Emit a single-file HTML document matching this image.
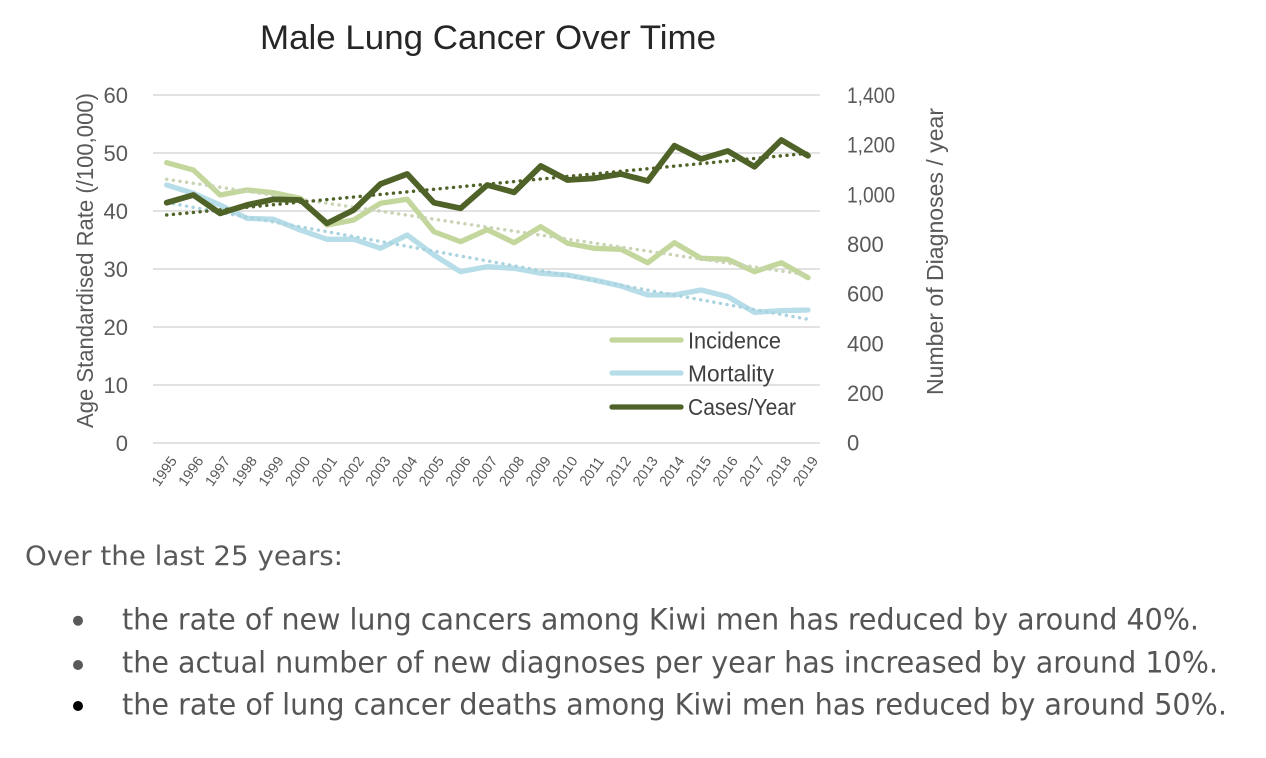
<!DOCTYPE html>
<html>
<head>
<meta charset="utf-8">
<style>
  html, body { margin: 0; padding: 0; background: #ffffff; }
  svg { display: block; }
</style>
</head>
<body>
<svg width="1266" height="758" viewBox="0 0 1266 758" xmlns="http://www.w3.org/2000/svg">
  <rect x="0" y="0" width="1266" height="758" fill="#ffffff"/>

  <!-- Title -->
  <text x="260" y="49" font-family="Liberation Sans, sans-serif" font-size="34" fill="#262626" textLength="456" lengthAdjust="spacingAndGlyphs">Male Lung Cancer Over Time</text>

  <!-- Gridlines -->
  <g stroke="#d9d9d9" stroke-width="1.6">
    <line x1="153" y1="95" x2="820" y2="95"/>
    <line x1="153" y1="153" x2="820" y2="153"/>
    <line x1="153" y1="211" x2="820" y2="211"/>
    <line x1="153" y1="269" x2="820" y2="269"/>
    <line x1="153" y1="327" x2="820" y2="327"/>
    <line x1="153" y1="385" x2="820" y2="385"/>
    <line x1="153" y1="443" x2="820" y2="443"/>
  </g>

  <!-- Left axis labels -->
  <g font-family="Liberation Sans, sans-serif" font-size="22" fill="#595959" text-anchor="end">
    <text x="128" y="103">60</text>
    <text x="128" y="161">50</text>
    <text x="128" y="219">40</text>
    <text x="128" y="277">30</text>
    <text x="128" y="335">20</text>
    <text x="128" y="393">10</text>
    <text x="128" y="451">0</text>
  </g>

  <!-- Right axis labels -->
  <g font-family="Liberation Sans, sans-serif" font-size="22" fill="#595959">
    <text x="847" y="103" textLength="48" lengthAdjust="spacingAndGlyphs">1,400</text>
    <text x="847" y="152.7" textLength="48" lengthAdjust="spacingAndGlyphs">1,200</text>
    <text x="847" y="202.4" textLength="48" lengthAdjust="spacingAndGlyphs">1,000</text>
    <text x="847" y="252">800</text>
    <text x="847" y="301.7">600</text>
    <text x="847" y="351.4">400</text>
    <text x="847" y="401">200</text>
    <text x="847" y="450.7">0</text>
  </g>

  <!-- Axis titles -->
  <text transform="translate(93,260.5) rotate(-90)" text-anchor="middle" font-family="Liberation Sans, sans-serif" font-size="23" fill="#595959" textLength="335" lengthAdjust="spacingAndGlyphs">Age Standardised Rate (/100,000)</text>
  <text transform="translate(943,251.5) rotate(-90)" text-anchor="middle" font-family="Liberation Sans, sans-serif" font-size="23" fill="#595959" textLength="287" lengthAdjust="spacingAndGlyphs">Number of Diagnoses / year</text>

  <!-- Data lines -->
  <g fill="none" stroke-linejoin="round" stroke-linecap="round">
    <polyline stroke="#c3d69b" stroke-width="5.3" points="166.7,162.7 193.4,170 220.1,195 246.9,190 273.6,192.7 300.3,198.3 327,225 353.7,220 380.5,203.3 407.2,199.3 433.9,231.7 460.6,241.7 487.3,229.7 514.1,242.7 540.8,226.7 567.5,243.3 594.2,248.3 620.9,249.3 647.7,262.7 674.4,242.7 701.1,258.3 727.8,259.3 754.5,271.7 781.3,262.7 808,277.7"/>
    <polyline stroke="#b7dde8" stroke-width="5.3" points="166.7,185 193.4,193.3 220.1,205 246.9,218.3 273.6,219.3 300.3,230 327,239.3 353.7,239.3 380.5,248.3 407.2,235 433.9,255 460.6,271.7 487.3,266.7 514.1,268.3 540.8,273.3 567.5,275 594.2,280 620.9,286 647.7,295 674.4,295 701.1,290 727.8,296.7 754.5,312.3 781.3,310.7 808,310"/>
    <!-- trendlines incidence & mortality -->
    <line x1="166.7" y1="179.3" x2="808" y2="275" stroke="#c8d4b4" stroke-width="3.4" stroke-dasharray="0.1 6.6"/>
    <line x1="166.7" y1="202.5" x2="808" y2="319.3" stroke="#a9d3df" stroke-width="3.4" stroke-dasharray="0.1 6.6"/>
    <polyline stroke="#4f6228" stroke-width="5.8" points="166.7,202.7 193.4,195 220.1,213.3 246.9,205 273.6,199.3 300.3,200 327,223.3 353.7,210 380.5,184 407.2,174 433.9,202.7 460.6,208.3 487.3,185 514.1,192.3 540.8,166 567.5,180 594.2,178.3 620.9,174 647.7,181 674.4,145.7 701.1,159 727.8,151 754.5,166.7 781.3,140 808,155.7"/>
    <line x1="166.7" y1="215" x2="808" y2="153.3" stroke="#4f6228" stroke-width="3.4" stroke-dasharray="0.1 6.6"/>
  </g>

  <!-- X labels -->
  <g font-family="Liberation Sans, sans-serif" font-size="14.5" fill="#595959" text-anchor="middle">
    <text transform="translate(168.2,474) rotate(-55)">1995</text>
    <text transform="translate(194.9,474) rotate(-55)">1996</text>
    <text transform="translate(221.6,474) rotate(-55)">1997</text>
    <text transform="translate(248.4,474) rotate(-55)">1998</text>
    <text transform="translate(275.1,474) rotate(-55)">1999</text>
    <text transform="translate(301.8,474) rotate(-55)">2000</text>
    <text transform="translate(328.5,474) rotate(-55)">2001</text>
    <text transform="translate(355.2,474) rotate(-55)">2002</text>
    <text transform="translate(382,474) rotate(-55)">2003</text>
    <text transform="translate(408.7,474) rotate(-55)">2004</text>
    <text transform="translate(435.4,474) rotate(-55)">2005</text>
    <text transform="translate(462.1,474) rotate(-55)">2006</text>
    <text transform="translate(488.8,474) rotate(-55)">2007</text>
    <text transform="translate(515.6,474) rotate(-55)">2008</text>
    <text transform="translate(542.3,474) rotate(-55)">2009</text>
    <text transform="translate(569,474) rotate(-55)">2010</text>
    <text transform="translate(595.7,474) rotate(-55)">2011</text>
    <text transform="translate(622.4,474) rotate(-55)">2012</text>
    <text transform="translate(649.2,474) rotate(-55)">2013</text>
    <text transform="translate(675.9,474) rotate(-55)">2014</text>
    <text transform="translate(702.6,474) rotate(-55)">2015</text>
    <text transform="translate(729.3,474) rotate(-55)">2016</text>
    <text transform="translate(756,474) rotate(-55)">2017</text>
    <text transform="translate(782.8,474) rotate(-55)">2018</text>
    <text transform="translate(809.5,474) rotate(-55)">2019</text>
  </g>

  <!-- Legend -->
  <g stroke-linecap="round" stroke-width="5.3">
    <line x1="612" y1="340" x2="681" y2="340" stroke="#c3d69b"/>
    <line x1="612" y1="373" x2="681" y2="373" stroke="#b7dde8"/>
    <line x1="612" y1="407" x2="681" y2="407" stroke="#4f6228"/>
  </g>
  <g font-family="Liberation Sans, sans-serif" font-size="23" fill="#404040">
    <text x="688" y="348.5" textLength="93" lengthAdjust="spacingAndGlyphs">Incidence</text>
    <text x="688" y="381.5" textLength="86" lengthAdjust="spacingAndGlyphs">Mortality</text>
    <text x="688" y="415" textLength="108" lengthAdjust="spacingAndGlyphs">Cases/Year</text>
  </g>

  <!-- Bottom text -->
  <text x="25" y="565" font-family="DejaVu Sans, Liberation Sans, sans-serif" font-size="26.5" fill="#595959" textLength="318" lengthAdjust="spacingAndGlyphs">Over the last 25 years:</text>

  <circle cx="78" cy="620.7" r="5" fill="#595959"/>
  <circle cx="78" cy="665" r="5" fill="#595959"/>
  <circle cx="78" cy="706" r="5" fill="#000000"/>

  <g font-family="DejaVu Sans, Liberation Sans, sans-serif" font-size="29.5" fill="#555555">
    <text x="122" y="629.5" textLength="1077" lengthAdjust="spacingAndGlyphs">the rate of new lung cancers among Kiwi men has reduced by around 40%.</text>
    <text x="122" y="672.5" textLength="1096" lengthAdjust="spacingAndGlyphs">the actual number of new diagnoses per year has increased by around 10%.</text>
    <text x="122" y="714.5" textLength="1105" lengthAdjust="spacingAndGlyphs">the rate of lung cancer deaths among Kiwi men has reduced by around 50%.</text>
  </g>
</svg>
</body>
</html>
